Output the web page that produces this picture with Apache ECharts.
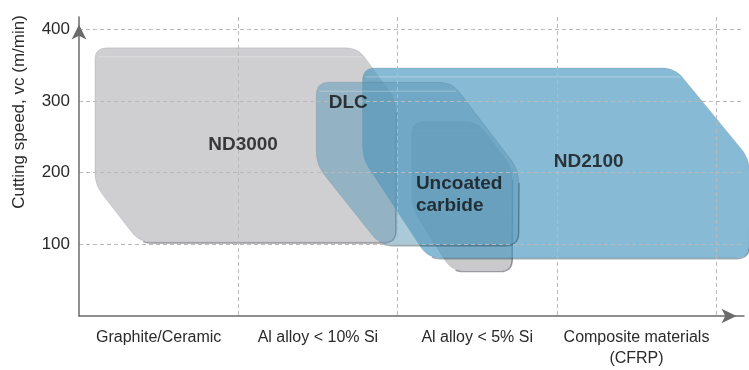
<!DOCTYPE html>
<html><head><meta charset="utf-8">
<script src="https://cdn.jsdelivr.net/npm/echarts@6/dist/echarts.min.js"></script>
<style>html,body{margin:0;padding:0;background:#fff}#c{width:749px;height:370px}</style>
</head><body><div id="c"></div>
<script>
// ---- data ----
const categories = ['Graphite/Ceramic', 'Al alloy < 10% Si', 'Al alloy < 5% Si', 'Composite materials\n(CFRP)'];
const yAxisTitle = 'Cutting speed, vc (m/min)';
// outline vertices of each application range (x: material position, y: cutting speed m/min)
const nd3000X = [0.10, 1.75, 1.99, 1.99, 0.38, 0.10];
const nd3000Y = [374, 374, 301, 103, 103, 183];
const uncoatedX = [2.09, 2.50, 2.72, 2.72, 2.34, 2.09];
const uncoatedY = [271, 271, 206, 63, 63, 151];
const nd2100X = [1.78, 3.74, 4.21, 4.21, 2.19, 1.78];
const nd2100Y = [346, 346, 219, 81, 81, 220];
const dlcX = [1.49, 2.34, 2.76, 2.76, 1.89, 1.49];
const dlcY = [326, 326, 204, 99, 99, 211];
const gradeNames = ['ND3000', 'DLC', 'ND2100', 'Uncoated\ncarbide'];
const gradeLabelX = [1.03, 1.69, 3.20, 2.115];
const gradeLabelY = [239, 297, 215, 169];

// ---- drawing ----
const FONT = "'Liberation Sans', Arial, Helvetica, sans-serif";
const STEPS = 8;
function roundPoly(pts, r, n) {
  const out = [], m = pts.length;
  for (let i = 0; i < m; i++) {
    const p = pts[i], a = pts[(i - 1 + m) % m], b = pts[(i + 1) % m];
    const da = Math.hypot(a[0] - p[0], a[1] - p[1]), db = Math.hypot(b[0] - p[0], b[1] - p[1]);
    const rr = Math.min(r, da / 2, db / 2);
    const s = [p[0] + (a[0] - p[0]) * rr / da, p[1] + (a[1] - p[1]) * rr / da];
    const e = [p[0] + (b[0] - p[0]) * rr / db, p[1] + (b[1] - p[1]) * rr / db];
    for (let k = 0; k <= n; k++) {
      const t = k / n, u = 1 - t;
      out.push([u * u * s[0] + 2 * u * t * p[0] + t * t * e[0], u * u * s[1] + 2 * u * t * p[1] + t * t * e[1]]);
    }
  }
  return out;
}
function shapeSeries(xs, ys, fill, edge, radius) {
  return {
    type: 'custom',
    coordinateSystem: 'cartesian2d',
    data: xs.map((x, i) => [x, ys[i]]),
    encode: { x: 0, y: 1 },
    silent: true,
    renderItem: function (params, api) {
      if (params.dataIndex !== 0) return null;
      const pts = xs.map((x, i) => api.coord([x, ys[i]]));
      const rp = roundPoly(pts, radius, STEPS);
      const per = STEPS + 1;
      const side = rp.slice(2 * per + per - 1, 3 * per).map(p => [p[0] + 0.4, p[1]]);
      const bottom = rp.slice(3 * per, 4 * per + Math.floor(per / 2)).map(p => [p[0], p[1] + 0.8]);
      const gy = pts[0][1] + 9;
      const t = (gy - pts[1][1]) / (pts[2][1] - pts[1][1]);
      const gx = pts[1][0] + t * (pts[2][0] - pts[1][0]);
      return {
        type: 'group',
        children: [
          { type: 'polygon', shape: { points: rp },
            style: { fill: fill, stroke: 'rgba(40,60,70,0.12)', lineWidth: 1 } },
          { type: 'polyline', shape: { points: side.concat(bottom) },
            style: { fill: null, stroke: edge, lineWidth: 1.4 } },
          { type: 'line', shape: { x1: pts[0][0] + 3, y1: gy, x2: gx - 2, y2: gy },
            style: { stroke: 'rgba(255,255,255,0.3)', lineWidth: 1 } }
        ]
      };
    }
  };
}

const chart = echarts.init(document.getElementById('c'), null, { renderer: 'canvas' });
const gridColor = '#b9b9b9';
chart.setOption({
  animation: false,
  backgroundColor: '#fff',
  textStyle: { fontFamily: FONT },
  grid: { left: 79, right: 5, top: 17, bottom: 54, containLabel: false },
  xAxis: {
    type: 'value', min: 0, max: 4.175, interval: 0.5, z: 3,
    axisLine: { show: true, onZero: false, symbol: ['none', 'arrow'], symbolSize: [11, 15], symbolOffset: [0, -7.5],
      lineStyle: { color: '#6b6b6b', width: 1.5 } },
    axisTick: { show: false },
    axisLabel: {
      show: true, margin: 11, fontSize: 16, lineHeight: 21, color: '#2a2a2a', fontFamily: FONT,
      showMinLabel: false, showMaxLabel: false,
      formatter: function (v) {
        const k = v - 0.5;
        if (Math.abs(k - Math.round(k)) < 1e-6 && Math.round(k) >= 0 && Math.round(k) < categories.length) return categories[Math.round(k)];
        return '';
      }
    },
    splitLine: { show: true, showMinLine: false, showMaxLine: false,
      lineStyle: { color: ['rgba(0,0,0,0)', gridColor], type: [4, 3], width: 1 } }
  },
  yAxis: {
    type: 'value', min: 0, max: 417, interval: 100, z: 3,
    axisLine: { show: true, symbol: ['none', 'arrow'], symbolSize: [11, 15], symbolOffset: [0, -7.5],
      lineStyle: { color: '#6b6b6b', width: 1.5 } },
    axisTick: { show: false },
    axisLabel: { show: true, margin: 9, fontSize: 17, color: '#2a2a2a', fontFamily: FONT,
      showMinLabel: false, showMaxLabel: false,
      formatter: v => (v % 100 === 0 && v > 0) ? String(v) : '' },
    splitLine: { show: true, showMinLine: false, showMaxLine: false,
      lineStyle: { color: gridColor, type: [4, 3], width: 1 } }
  },
  graphic: [{
    type: 'text', x: 19, y: 112, rotation: Math.PI / 2,
    style: { text: yAxisTitle, fontSize: 17, fontFamily: FONT, fill: '#2a2a2a', align: 'center', verticalAlign: 'middle' }
  }],
  series: [
    shapeSeries(nd3000X, nd3000Y, '#cfcfd2', 'rgba(60,60,70,0.5)', 12),
    shapeSeries(uncoatedX, uncoatedY, '#cacacd', 'rgba(60,60,70,0.5)', 12),
    shapeSeries(nd2100X, nd2100Y, 'rgba(70,150,190,0.65)', 'rgba(20,60,80,0.4)', 13),
    shapeSeries(dlcX, dlcY, 'rgba(92,152,182,0.52)', 'rgba(20,60,80,0.4)', 13),
    {
      type: 'scatter', z: 5, silent: true, symbolSize: 0,
      data: gradeNames.map((n, i) => ({
        value: [gradeLabelX[i], gradeLabelY[i], n],
        label: i === 3 ? { position: 'right', distance: 0, align: 'left' } : undefined
      })),
      label: { show: true, position: 'inside', formatter: p => p.data.value[2],
        fontSize: 19, fontWeight: 'bold', color: '#111', lineHeight: 22, fontFamily: FONT,
        textBorderWidth: 0, textShadowBlur: 0 }
    }
  ]
});
</script>
</body></html>
